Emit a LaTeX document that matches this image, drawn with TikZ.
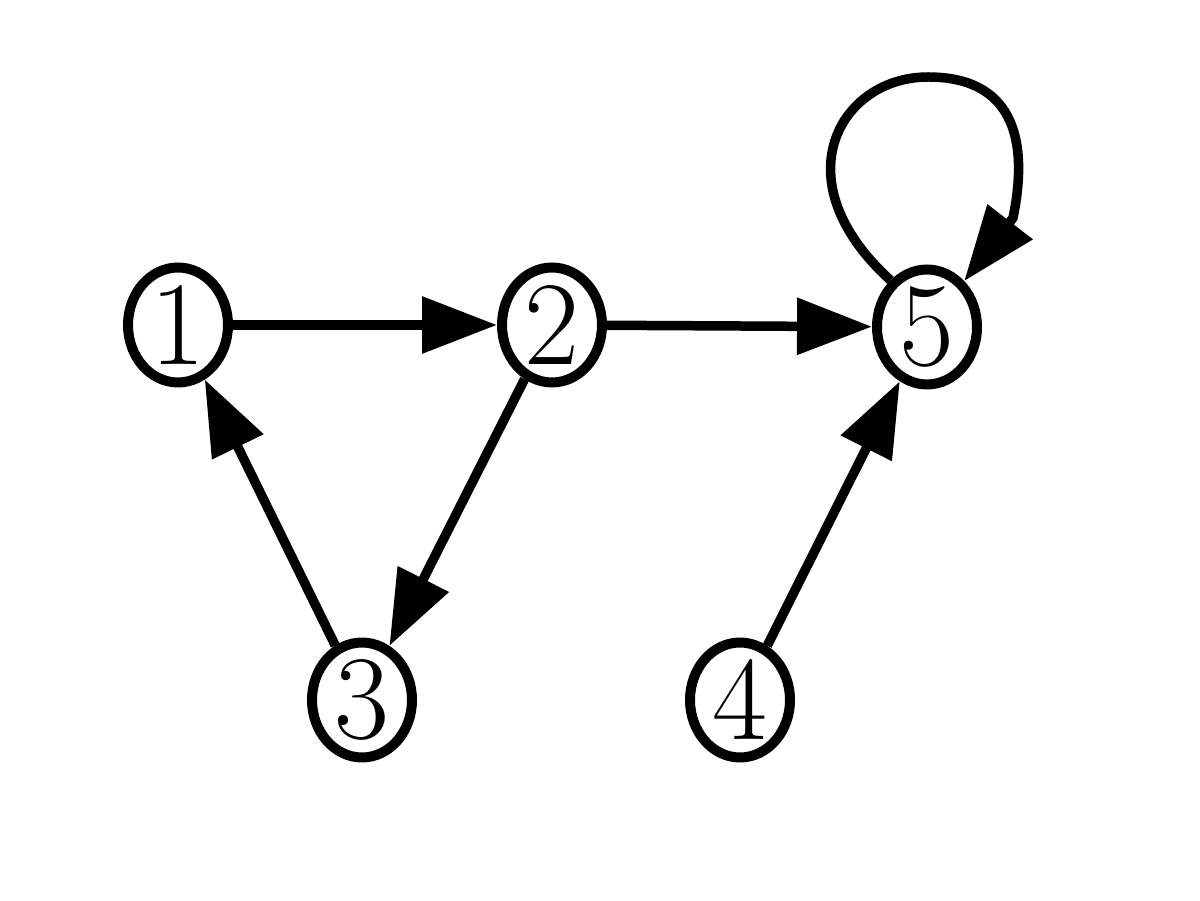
\documentclass[tikz,border=0pt]{standalone}
\usetikzlibrary{arrows.meta,shapes.geometric}
\tikzset{
  vertex/.style={ellipse, draw=black, line width=0.2cm, fill=white,
    minimum width=2.0cm, minimum height=2.3cm, inner sep=0pt,
    font=\fontsize{68}{76}\selectfont},
  edge/.style={line width=0.19cm, line join=round, -{Triangle[length=1.5cm,width=1.1cm]}}
}
\begin{document}
\begin{tikzpicture}[x=0.02cm,y=-0.02cm]
\useasboundingbox (0,0) rectangle (1200,901);
\node[vertex] (n1) at (178,325) {1};
\node[vertex] (n2) at (552,325) {2};
\node[vertex] (n5) at (927,327) {5};
\node[vertex] (n3) at (362,700) {3};
\node[vertex] (n4) at (740,700) {4};
\draw[edge] (n1) -- (n2);
\draw[edge] (n2) -- (n5);
\draw[edge] (n2) -- (n3);
\draw[edge] (n3) -- (n1);
\draw[edge] (n4) -- (n5);
\draw[edge] (n5.128) .. controls (780,180) and (840,77) .. (928,77)
  .. controls (1010,77) and (1030,135) .. (1013,218) -- (n5.51);
\end{tikzpicture}
\end{document}
